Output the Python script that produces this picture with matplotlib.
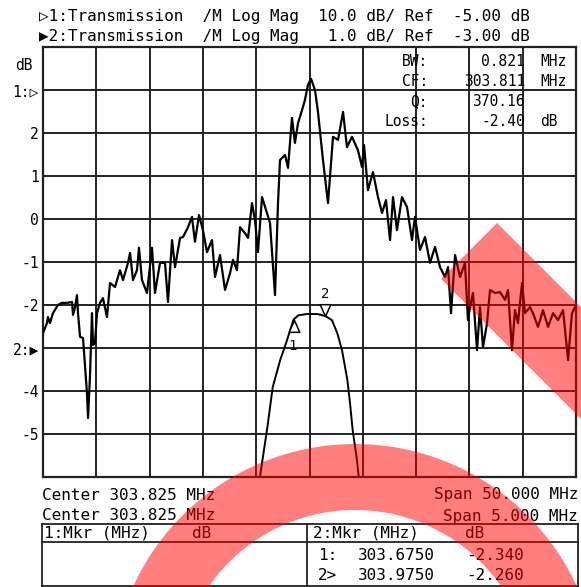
import matplotlib
matplotlib.use("Agg")
import matplotlib.pyplot as plt
import numpy as np
from matplotlib.path import Path
from matplotlib.patches import Wedge, Polygon
from matplotlib.transforms import IdentityTransform

# Trace 1: 10 dB/div, ref -5 dB, center 303.825 MHz, span 50 MHz
t1_freq = [278.83, 279.20, 279.29, 279.48, 279.76, 280.23, 280.61, 281.08, 281.55, 281.64,
           281.83, 282.01, 282.11, 282.30, 282.58, 282.95, 283.05, 283.23, 283.42, 283.52,
           283.70, 283.89, 284.17, 284.45, 284.83, 285.11, 285.58, 286.05, 286.33, 286.80,
           286.99, 287.27, 287.64, 287.83, 288.11, 288.58, 289.05, 289.33, 289.80, 290.27,
           290.55, 290.93, 291.21, 291.68, 291.96, 292.43, 292.80, 293.08, 293.46, 293.83,
           294.21, 294.68, 294.96, 295.43, 295.90, 296.37, 296.65, 297.02, 297.31, 297.77,
           298.06, 298.43, 298.71, 298.99, 299.37, 299.74, 300.12, 300.59, 300.87, 301.06,
           301.53, 301.81, 302.18, 302.46, 302.75, 303.12, 303.40, 303.68, 303.97, 304.34,
           304.62, 305.09, 305.56, 306.03, 306.50, 306.97, 307.34, 307.81, 308.37, 308.75,
           308.94, 309.31, 309.78, 310.25, 310.63, 311.00, 311.38, 311.66, 312.03, 312.50,
           312.97, 313.44, 313.72, 314.19, 314.66, 315.13, 315.60, 316.07, 316.54, 316.82,
           317.10, 317.48, 317.95, 318.41, 318.69, 318.88, 319.16, 319.54, 319.82, 320.10,
           320.48, 320.76, 321.23, 321.70, 322.17, 322.45, 322.82, 323.10, 323.38, 323.76,
           324.04, 324.51, 324.79, 325.26, 325.73, 326.20, 326.67, 327.14, 327.61, 328.08,
           328.45, 328.73]
t1_db = [-61.5, -59.2, -57.8, -59.2, -56.9, -55.0, -54.5, -54.5, -54.3, -57.3,
         -55.5, -52.7, -56.9, -62.4, -62.7, -75.5, -81.3, -71.7, -56.9, -64.3,
         -63.8, -56.9, -54.5, -53.4, -57.8, -49.9, -50.8, -46.9, -49.2, -45.2,
         -42.9, -49.2, -46.9, -41.7, -49.2, -52.2, -41.7, -52.2, -45.2, -45.2,
         -54.3, -39.9, -46.2, -39.4, -39.2, -36.9, -34.5, -40.3, -34.1, -37.6,
         -42.7, -39.9, -48.5, -43.4, -51.5, -47.6, -44.5, -46.9, -36.9, -38.3,
         -39.4, -31.3, -35.2, -42.7, -29.9, -32.9, -35.9, -52.7, -31.3, -21.3,
         -20.1, -23.1, -11.5, -17.3, -12.7, -9.7, -7.3, -3.8, -2.4, -5.0,
         -10.1, -21.3, -31.3, -15.9, -16.6, -10.1, -18.3, -15.9, -19.0, -22.9,
         -17.8, -28.3, -24.1, -29.9, -33.6, -30.6, -39.9, -29.9, -37.6, -29.9,
         -32.2, -39.9, -34.5, -42.2, -39.2, -45.2, -41.5, -46.2, -48.5, -46.2,
         -56.9, -43.4, -48.5, -45.2, -58.5, -55.5, -52.2, -65.5, -55.5, -64.8,
         -59.2, -51.5, -52.2, -52.0, -53.8, -51.5, -65.5, -56.2, -59.2, -49.9,
         -56.9, -55.5, -56.9, -60.1, -56.2, -60.1, -56.9, -58.5, -56.2, -67.8,
         -56.9, -55.5]

# Trace 2: 1 dB/div, ref -3 dB, center 303.825 MHz, span 5 MHz
t2_freq = [303.20, 303.36, 303.43, 303.48, 303.55, 303.61, 303.675, 303.72, 303.80, 303.90,
           303.975, 304.035, 304.085, 304.13, 304.18, 304.205, 304.23, 304.27, 304.29, 304.35]
t2_db = [-9.0, -6.0, -4.84, -3.91, -3.28, -2.85, -2.34, -2.24, -2.21, -2.21,
         -2.26, -2.35, -2.65, -3.05, -3.74, -4.28, -4.91, -5.60, -6.07, -9.0]

mkr_freq = [303.675, 303.975]
mkr_db = [-2.34, -2.26]

ytick_vals = [-6, -5, -4, -3, -2, -1, 0, 1, 2, 3, 4]
ytick_text = ['', '-5', '-4', '2:\u25b6', '-2', '-1', '0', '1', '2', '1:\u25b7', '']

W, H = 581, 587
mono = ['DejaVu Sans Mono', 'DejaVu Sans']


def fx(x):
    return x / W


def fy(y):
    return 1 - y / H


fig = plt.figure(figsize=(W / 100, H / 100), dpi=100)
rect = [fx(43), fy(477), 533 / W, 430 / H]

ax = fig.add_axes(rect)
ax.set_xlim(301.325, 306.325)
ax.set_ylim(-6, 4)
ax.set_xticks(np.linspace(301.325, 306.325, 11))
ax.set_xticklabels([])
ax.set_yticks(ytick_vals)
ax.set_yticklabels(ytick_text, family=mono, fontsize=10.5)
ax.tick_params(length=0, pad=3)
ax.grid(True, color='#222222', lw=1.4)
for s in ax.spines.values():
    s.set_linewidth(1.6)
    s.set_color('#222222')

ax.plot(t2_freq, t2_db, color='black', lw=1.4)
up = Path([(0, 0), (-0.45, -1), (0.45, -1), (0, 0)])
down = Path([(0, 0), (-0.45, 1), (0.45, 1), (0, 0)])
ax.plot(mkr_freq[0], mkr_db[0], marker=up, ms=17, mfc='white', mec='black', mew=1.1)
ax.plot(mkr_freq[1], mkr_db[1], marker=down, ms=17, mfc='white', mec='black', mew=1.1)
ax.annotate('1', (mkr_freq[0], mkr_db[0]), xytext=(-1, -19), textcoords='offset points',
            ha='center', va='center', family=mono, fontsize=10)
ax.annotate('2', (mkr_freq[1], mkr_db[1]), xytext=(0, 16), textcoords='offset points',
            ha='center', va='center', family=mono, fontsize=10)

ax1 = fig.add_axes(rect, frameon=False)
ax1.set_xlim(278.825, 328.825)
ax1.set_ylim(-95, 5)
ax1.set_axis_off()
ax1.plot(t1_freq, t1_db, color='black', lw=1.6)

# header
fig.text(fx(39), fy(16), "\u25b71:Transmission  /M Log Mag  10.0 dB/ Ref  -5.00 dB",
         family=mono, fontsize=11.5, va='center')
fig.text(fx(39), fy(36), "\u25b62:Transmission  /M Log Mag   1.0 dB/ Ref  -3.00 dB",
         family=mono, fontsize=11.5, va='center')
fig.text(fx(15), fy(65), "dB", family=mono, fontsize=10.5, va='center')

# filter stats box
for lab, val, unit, y in [("BW:", "0.821", "MHz", 62), ("CF:", "303.811", "MHz", 81),
                          ("Q:", "370.16", "", 102), ("Loss:", "-2.40", "dB", 121)]:
    fig.text(fx(428), fy(y), lab, family=mono, fontsize=10.5, ha='right', va='center')
    fig.text(fx(525), fy(y), val, family=mono, fontsize=10.5, ha='right', va='center')
    fig.text(fx(540), fy(y), unit, family=mono, fontsize=10.5, va='center')

# footer
fig.text(fx(42), fy(495), "Center 303.825 MHz", family=mono, fontsize=11.5, va='center')
fig.text(fx(578), fy(495), "Span 50.000 MHz", family=mono, fontsize=11.5, va='center', ha='right')
fig.text(fx(42), fy(516), "Center 303.825 MHz", family=mono, fontsize=11.5, va='center')
fig.text(fx(578), fy(516), "Span 5.000 MHz", family=mono, fontsize=11.5, va='center', ha='right')

lk = dict(color='#222222', lw=1.3, transform=fig.transFigure)
fig.add_artist(plt.Line2D([fx(42), fx(578)], [fy(524), fy(524)], **lk))
fig.add_artist(plt.Line2D([fx(42), fx(578)], [fy(542), fy(542)], **lk))
fig.add_artist(plt.Line2D([fx(42), fx(578)], [fy(586), fy(586)], **lk))
fig.add_artist(plt.Line2D([fx(42), fx(42)], [fy(524), fy(586)], **lk))
fig.add_artist(plt.Line2D([fx(578), fx(578)], [fy(524), fy(586)], **lk))
fig.add_artist(plt.Line2D([fx(307), fx(307)], [fy(524), fy(586)], **lk))

fig.text(fx(44), fy(533), "1:Mkr (MHz)", family=mono, fontsize=11.5, va='center')
fig.text(fx(192), fy(533), "dB", family=mono, fontsize=11.5, va='center')
fig.text(fx(313), fy(533), "2:Mkr (MHz)", family=mono, fontsize=11.5, va='center')
fig.text(fx(465), fy(533), "dB", family=mono, fontsize=11.5, va='center')
for tag, f, d, y in [("1:", mkr_freq[0], mkr_db[0], 555), ("2>", mkr_freq[1], mkr_db[1], 576)]:
    fig.text(fx(318), fy(y), tag, family=mono, fontsize=11.5, va='center')
    fig.text(fx(358), fy(y), f"{f:.4f}", family=mono, fontsize=11.5, va='center')
    fig.text(fx(524), fy(y), f"{d:.3f}", family=mono, fontsize=11.5, va='center', ha='right')

# red overlay shapes on the scan
band = Polygon([(441, H - 279), (497, H - 223), (897, H - 623), (841, H - 679)],
               closed=True, facecolor='red', alpha=0.5, edgecolor='none',
               transform=IdentityTransform(), zorder=10)
ring = Wedge((355, H - 688), 244, 0, 360, width=66, facecolor='red', alpha=0.5,
             edgecolor='none', transform=IdentityTransform(), zorder=10)
fig.add_artist(band)
fig.add_artist(ring)

fig.savefig('out.png', dpi=100)
